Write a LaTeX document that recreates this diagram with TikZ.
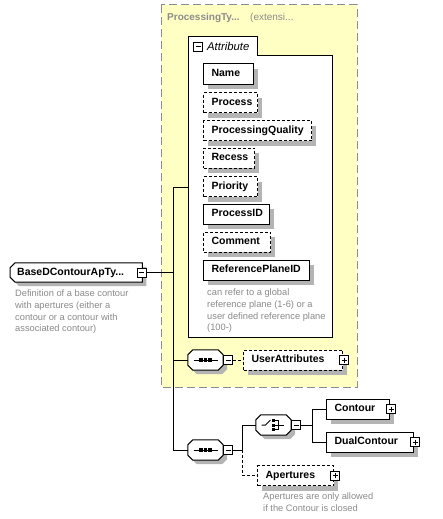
\documentclass[tikz,border=0pt]{standalone}
\usepackage{fontspec}
\setmainfont{Liberation Sans}
\definecolor{ybg}{HTML}{FFFFC4}
\definecolor{ybord}{HTML}{8C8C8C}
\definecolor{dgray}{HTML}{8A8A8A}
\definecolor{shd}{HTML}{B4B4B4}
\pgfdeclarelayer{back}
\pgfdeclarelayer{mid}
\pgfsetlayers{back,mid,main}
\newcommand{\octo}[3]{%
 \fill[shd] ([shift={(#2+4,4)}]#1.north west) -- ([shift={(-#3+4,4)}]#1.north east) -- ([shift={(4,#3+4)}]#1.north east) -- ([shift={(4,-#3+4)}]#1.south east) -- ([shift={(-#3+4,4)}]#1.south east) -- ([shift={(#2+4,4)}]#1.south west) -- ([shift={(4,-#2+4)}]#1.south west) -- ([shift={(4,#2+4)}]#1.north west) -- cycle;
 \draw[line width=1pt,fill=white] ([shift={(#2,0)}]#1.north west) -- ([shift={(-#3,0)}]#1.north east) -- ([shift={(0,#3)}]#1.north east) -- ([shift={(0,-#3)}]#1.south east) -- ([shift={(-#3,0)}]#1.south east) -- ([shift={(#2,0)}]#1.south west) -- ([shift={(0,-#2)}]#1.south west) -- ([shift={(0,#2)}]#1.north west) -- cycle;}
% #1 name, #2 x, #3 y (centre), #4 box width, #5 style, #6 text, #7 text width
\newcommand{\elnode}[7]{%
 \fill[shd] (#2+5,#3-5) rectangle (#2+#4+5,#3+15);
 \node[elem=#7, #5] (#1) at (#2,#3) {#6};}
\tikzset{
 elem/.style={draw=black, line width=1pt, fill=white, font=\fontsize{10.5}{12}\selectfont\bfseries, text width=#1, align=left, inner xsep=8pt, inner ysep=0pt, minimum height=20pt, text height=7.5pt, text depth=2.2pt, anchor=west},
 opt/.style={dash pattern=on 3pt off 2pt},
 req/.style={},
 conn/.style={line width=1pt},
 dconn/.style={line width=1pt, dash pattern=on 3pt off 2pt},
 desc/.style={font=\fontsize{9.3}{11.6}\selectfont, text=dgray, align=left, anchor=north west, inner sep=0pt},
 comp/.style={draw=none, minimum width=35pt, minimum height=20pt, inner sep=0pt},
 mbox/.style={draw=black, line width=0.8pt, fill=white, minimum size=9pt, inner sep=0pt,
   path picture={\draw[line width=0.8pt] ([xshift=2pt]path picture bounding box.west) -- ([xshift=-2pt]path picture bounding box.east);}},
 pbox/.style={draw=black, line width=0.8pt, fill=white, minimum size=9pt, inner sep=0pt,
   path picture={\draw[line width=0.8pt] ([xshift=2pt]path picture bounding box.west) -- ([xshift=-2pt]path picture bounding box.east) ([yshift=-2pt]path picture bounding box.north) -- ([yshift=2pt]path picture bounding box.south);}},
}
\begin{document}
\begin{tikzpicture}[x=1pt,y=-1pt]
\useasboundingbox (0,0) rectangle (442,519);
% background container
\begin{pgfonlayer}{back}
 \draw[ybord, fill=ybg, line width=1pt, dash pattern=on 8pt off 4pt] (161,5) rectangle (357,387);
 \draw[line width=1pt, fill=white] (188,337) -- (188,37) -- (257,37) -- (257,56) -- (332,56) -- (332,337) -- cycle;
\end{pgfonlayer}
\node[anchor=base west, inner sep=0pt, text=ybord, font=\fontsize{10}{12}\selectfont\bfseries] (ptitle) at (167,21) {ProcessingTy...};
\node[anchor=base west, inner sep=0pt, text=ybord, font=\fontsize{10}{12}\selectfont] (pext) at (250,21) {(extensi...};
\node[mbox] (am) at (198,46.5) {};
\node[anchor=base west, inner sep=0pt, font=\fontsize{11.3}{12}\selectfont\itshape] (alabel) at (207,51) {Attribute};
\coordinate (attrL) at (188,187);
% attributes
\elnode{name}{203}{74}{50}{req}{Name}{34pt}
\elnode{proc}{203}{102.5}{54}{opt}{Process}{38pt}
\elnode{pq}{203}{130.5}{108}{opt}{ProcessingQuality}{92pt}
\elnode{rec}{203}{158}{51}{opt}{Recess}{35pt}
\elnode{pri}{203}{186.5}{54}{opt}{Priority}{38pt}
\elnode{pid}{203}{214}{66}{req}{ProcessID}{50pt}
\elnode{com}{203}{242}{67}{opt}{Comment}{51pt}
\elnode{ref}{203}{270}{106}{req}{ReferencePlaneID}{90pt}
\node[desc] (refd) at (207,289) {can refer to a global\\reference plane (1-6) or a\\user defined reference plane\\(100-)};
% root
\node[anchor=west, minimum width=132pt, minimum height=19pt, text width=118pt, inner xsep=7pt, inner ysep=0pt, align=left, font=\fontsize{10.5}{12}\selectfont\bfseries, text height=7.5pt, text depth=2.2pt] (root) at (10,272.5) {BaseDContourApTy...};
\begin{pgfonlayer}{mid}\octo{root}{5}{0}\end{pgfonlayer}
\node[mbox] (rm) at ([xshift=-0.5pt]root.east) {};
\node[desc] (rootd) at (15,290) {Definition of a base contour\\with apertures (either a\\contour or a contour with\\associated contour)};
% compositors
\node[comp] (s1) at (205.5,360) {};
\node[comp] (s2) at (205.5,450) {};
\node[comp] (ch) at (273.5,425) {};
\begin{pgfonlayer}{mid}\octo{s1}{5}{5}\octo{s2}{5}{5}\octo{ch}{5}{5}\end{pgfonlayer}
\node[mbox, anchor=west] (s1m) at (s1.east) {};
\node[mbox, anchor=west] (s2m) at (s2.east) {};
\node[mbox, anchor=west] (chm) at (ch.east) {};
\foreach \s in {s1,s2}{
 \draw[line width=1pt] ([xshift=-12pt]\s.center) -- ([xshift=12pt]\s.center);
 \foreach \dx in {-4.5,0,4.5}{\fill ([shift={(\dx-1.6,-1.6)}]\s.center) rectangle ([shift={(\dx+1.6,1.6)}]\s.center);}
}
\draw[line width=1pt] ([xshift=-12pt]ch.center) -- ([xshift=-8pt]ch.center) -- ([shift={(-3,-5)}]ch.center);
\foreach \dy in {-4.5,0,4.5}{\fill ([shift={(-1.8,\dy-1.5)}]ch.center) rectangle ([shift={(1.2,\dy+1.5)}]ch.center);}
\draw[line width=0.9pt] ([shift={(1.2,-4.5)}]ch.center) -- ([shift={(5,-4.5)}]ch.center) -- ([shift={(5,4.5)}]ch.center) -- ([shift={(1.2,4.5)}]ch.center)
 ([shift={(1.2,0)}]ch.center) -- ([shift={(10,0)}]ch.center);
% elements
\elnode{ua}{243}{360}{99}{opt}{UserAttributes}{83pt}
\elnode{co}{326}{409}{63}{req}{Contour}{47pt}
\elnode{du}{326}{442}{87}{req}{DualContour}{71pt}
\elnode{ap}{257}{475.5}{76}{opt}{Apertures}{60pt}
\foreach \n in {ua,co,du,ap}{\node[pbox] at ([xshift=1pt]\n.east) {};}
\node[desc] (apd) at (263,493) {Apertures are only allowed\\if the Contour is closed};
% connectors
\coordinate (v) at (173,0);
\coordinate (v2) at (242,0);
\coordinate (v3) at (312,0);
\coordinate (j1) at (attrL -| v);
\coordinate (j2) at (s2.west -| v);
\draw[conn] (j1) -- (j2);
\draw[conn] (j1) -- (attrL);
\draw[conn] (rm.east) -- (rm.east -| v);
\draw[conn] (s1.west -| v) -- (s1.west);
\draw[dconn] (s1m.east) -- (ua.west);
\draw[conn] (j2) -- (s2.west);
\draw[conn] (s2m.east) -- (s2m.east -| v2) -- (ch.west -| v2) -- (ch.west);
\draw[dconn] (s2m.east -| v2) -- (ap.west -| v2) -- (ap.west);
\draw[conn] (chm.east) -- (chm.east -| v3);
\draw[conn] (co.west -| v3) -- (du.west -| v3);
\draw[conn] (co.west -| v3) -- (co.west);
\draw[conn] (du.west -| v3) -- (du.west);
\end{tikzpicture}
\end{document}
